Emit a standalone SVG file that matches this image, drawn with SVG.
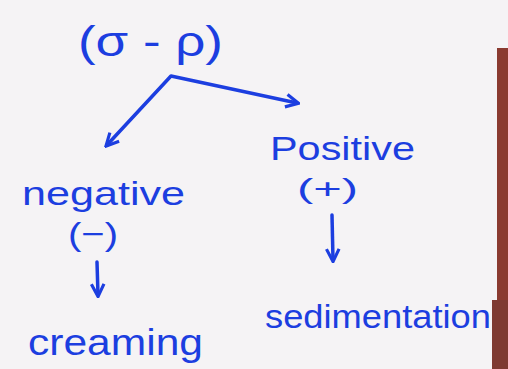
<svg xmlns="http://www.w3.org/2000/svg" width="508" height="369" viewBox="0 0 508 369">
<defs>
<style>
.t{font-family:"Liberation Sans","DejaVu Sans",sans-serif;fill:#1c3ee0;}
.c{stroke:#1c3ee0;stroke-width:3.5;fill:none;stroke-linecap:round;stroke-linejoin:round;}
</style>
<marker id="ah" viewBox="0 0 10 10" refX="8" refY="5" markerWidth="4.5" markerHeight="4.5" orient="auto-start-reverse">
<path d="M1,1 L9,5 L1,9" fill="none" stroke="#1c3ee0" stroke-width="2"/>
</marker>
</defs>
<rect x="0" y="0" width="508" height="369" fill="#f5f3f5"/>
<rect x="497" y="48" width="11" height="321" fill="#8a3a30"/>
<rect x="492" y="300" width="16" height="69" fill="#7e3a32"/>
<g id="connectors">
<path class="c" d="M107,145 L171,76 L297,103" marker-start="url(#ah)" marker-end="url(#ah)"/>
<path class="c" d="M97,262 L98,295" marker-end="url(#ah)"/>
<path class="c" d="M332,215 L333,260" marker-end="url(#ah)"/>
</g>
<g id="root"><text class="t" x="78" y="56" font-size="42" textLength="145" lengthAdjust="spacingAndGlyphs">(σ - ρ)</text></g>
<g id="negative"><text class="t" x="22" y="205" font-size="34" textLength="163" lengthAdjust="spacingAndGlyphs">negative</text>
<text class="t" x="68" y="245" font-size="32" textLength="50" lengthAdjust="spacingAndGlyphs">(−)</text></g>
<g id="positive"><text class="t" x="270" y="160" font-size="34" textLength="145" lengthAdjust="spacingAndGlyphs">Positive</text>
<text class="t" x="297" y="198" font-size="28" textLength="61" lengthAdjust="spacingAndGlyphs">(+)</text></g>
<g id="creaming"><text class="t" x="28" y="355" font-size="36" textLength="175" lengthAdjust="spacingAndGlyphs">creaming</text></g>
<g id="sedimentation"><text class="t" x="265" y="328" font-size="34" textLength="226" lengthAdjust="spacingAndGlyphs">sedimentation</text></g>
</svg>
